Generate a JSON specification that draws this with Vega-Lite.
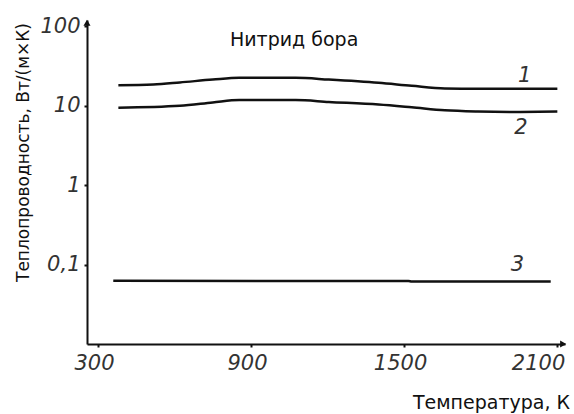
{
  "$schema": "https://vega.github.io/schema/vega-lite/v6.json",
  "autosize": "none",
  "width": 478,
  "height": 324,
  "padding": {"left": 87, "top": 20, "right": 9, "bottom": 70},
  "background": "white",
  "config": {"view": {"stroke": null}},
  "datasets": {
    "curves": [
      {"T": 380, "k": 18.0, "curve": "1"},
      {"T": 517, "k": 18.4, "curve": "1"},
      {"T": 621, "k": 19.5, "curve": "1"},
      {"T": 750, "k": 21.2, "curve": "1"},
      {"T": 854, "k": 22.3, "curve": "1"},
      {"T": 1075, "k": 22.3, "curve": "1"},
      {"T": 1205, "k": 21.2, "curve": "1"},
      {"T": 1400, "k": 19.3, "curve": "1"},
      {"T": 1530, "k": 17.7, "curve": "1"},
      {"T": 1660, "k": 16.4, "curve": "1"},
      {"T": 1789, "k": 16.2, "curve": "1"},
      {"T": 2101, "k": 16.2, "curve": "1"},
      {"T": 380, "k": 9.36, "curve": "2"},
      {"T": 621, "k": 9.9, "curve": "2"},
      {"T": 750, "k": 10.9, "curve": "2"},
      {"T": 854, "k": 11.7, "curve": "2"},
      {"T": 1075, "k": 11.7, "curve": "2"},
      {"T": 1205, "k": 11.1, "curve": "2"},
      {"T": 1400, "k": 10.3, "curve": "2"},
      {"T": 1530, "k": 9.5, "curve": "2"},
      {"T": 1660, "k": 8.7, "curve": "2"},
      {"T": 1789, "k": 8.4, "curve": "2"},
      {"T": 1919, "k": 8.3, "curve": "2"},
      {"T": 2101, "k": 8.4, "curve": "2"},
      {"T": 360, "k": 0.0623, "curve": "3"},
      {"T": 1517, "k": 0.0621, "curve": "3"},
      {"T": 1530, "k": 0.061, "curve": "3"},
      {"T": 2075, "k": 0.061, "curve": "3"}
    ],
    "labels": [
      {"T": 1973, "k": 23.8, "text": "1"},
      {"T": 1958, "k": 5.14, "text": "2"},
      {"T": 1945, "k": 0.098, "text": "3"}
    ],
    "heading": [
      {"T": 1069, "k": 65.8, "text": "Нитрид бора"}
    ],
    "arrowUp": [{"T": 257, "k": 110}],
    "arrowRight": [{"T": 2124, "k": 0.01}]
  },
  "layer": [
    {
      "data": {"name": "curves"},
      "mark": {"type": "line", "color": "#111", "strokeWidth": 2.5, "interpolate": "monotone", "clip": false},
      "encoding": {
        "x": {
          "field": "T", "type": "quantitative",
          "scale": {"domain": [257, 2131], "nice": false, "zero": false},
          "axis": {
            "values": [300, 900, 1500, 2100],
            "format": "d",
            "grid": false,
            "domainColor": "#111", "domainWidth": 2,
            "tickColor": "#111", "tickSize": 3, "tickWidth": 2,
            "labelFont": "DejaVu Sans", "labelFontStyle": "italic", "labelFontWeight": "normal",
            "labelFontSize": 21, "labelColor": "#333",
            "labelFlush": false, "labelPadding": 5, "labelBaseline": "top",
            "labelOffset": {"condition": {"test": "datum.value == 2100", "value": -19}, "value": -4},
            "title": "Температура, К",
            "titleFont": "DejaVu Sans", "titleFontSize": 19, "titleFontWeight": "normal", "titleColor": "#111",
            "titleAnchor": null, "titleAlign": "center", "titleBaseline": "alphabetic",
            "titleX": 404, "titleY": 64
          }
        },
        "y": {
          "field": "k", "type": "quantitative",
          "scale": {"type": "log", "domain": [0.01, 119], "nice": false},
          "axis": {
            "values": [0.1, 1, 10, 100],
            "labelExpr": "datum.value < 1 ? '0,1' : format(datum.value, 'd')",
            "grid": false,
            "domainColor": "#111", "domainWidth": 2,
            "tickColor": "#111", "tickSize": 3, "tickWidth": 2,
            "labelFont": "DejaVu Sans", "labelFontStyle": "italic", "labelFontWeight": "normal",
            "labelFontSize": 21, "labelColor": "#333", "labelPadding": 4,
            "title": "Теплопроводность, Вт/(м×К)",
            "titleFont": "DejaVu Sans", "titleFontSize": 17, "titleFontWeight": "normal", "titleColor": "#111",
            "titleAnchor": null, "titleAngle": -90, "titleAlign": "center", "titleBaseline": "middle",
            "titleX": -64, "titleY": 132
          }
        },
        "detail": {"field": "curve", "type": "nominal"}
      }
    },
    {
      "data": {"name": "labels"},
      "mark": {"type": "text", "font": "DejaVu Sans", "fontStyle": "italic", "fontSize": 21, "color": "#333", "clip": false},
      "encoding": {
        "x": {"field": "T", "type": "quantitative"},
        "y": {"field": "k", "type": "quantitative"},
        "text": {"field": "text"}
      }
    },
    {
      "data": {"name": "heading"},
      "mark": {"type": "text", "font": "DejaVu Sans", "fontSize": 19, "color": "#111"},
      "encoding": {
        "x": {"field": "T", "type": "quantitative"},
        "y": {"field": "k", "type": "quantitative"},
        "text": {"field": "text"}
      }
    },
    {
      "data": {"name": "arrowUp"},
      "mark": {"type": "point", "shape": "triangle-up", "filled": true, "color": "#111", "size": 50, "opacity": 1, "clip": false},
      "encoding": {
        "x": {"field": "T", "type": "quantitative"},
        "y": {"field": "k", "type": "quantitative"}
      }
    },
    {
      "data": {"name": "arrowRight"},
      "mark": {"type": "point", "shape": "triangle-right", "filled": true, "color": "#111", "size": 50, "opacity": 1, "clip": false},
      "encoding": {
        "x": {"field": "T", "type": "quantitative"},
        "y": {"field": "k", "type": "quantitative"}
      }
    }
  ]
}
